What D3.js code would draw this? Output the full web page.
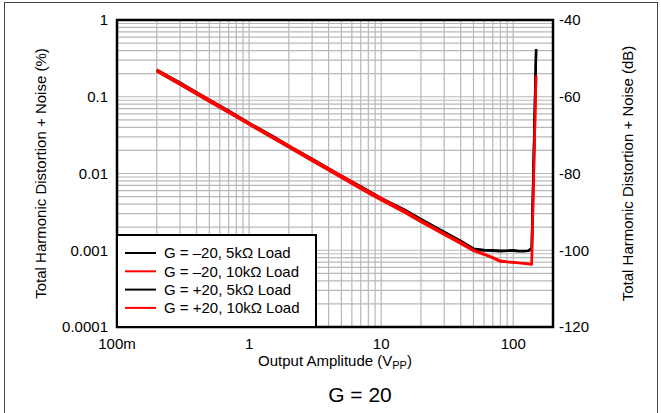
<!DOCTYPE html>
<html>
<head>
<meta charset="utf-8">
<script src="https://cdn.jsdelivr.net/npm/d3@7"></script>
<style>
  body { margin: 0; background: #fff; }
  svg { display: block; font-family: "Liberation Sans", Arial, sans-serif; }
  .grid line { stroke: #b8b8b8; stroke-width: 1.2; }
  .tick-label { font-size: 15px; fill: #000; }
  .axis-title { font-size: 15px; fill: #000; }
  .series { fill: none; stroke-width: 2.4; stroke-linejoin: round; }
</style>
</head>
<body>
<svg width="661" height="413"></svg>
<script>
// output amplitude (Vpp)
var amplitude = [0.2, 0.3, 0.5, 0.7, 1, 1.5, 2, 3, 5, 7, 10, 15, 20, 30, 40, 50, 60, 70, 80, 90, 100, 110, 120, 130, 138, 149];

// THD+N (%)
var gNeg5k  = [0.224, 0.153, 0.091, 0.066, 0.0455, 0.0310, 0.0230, 0.0156, 0.0093, 0.0068, 0.0048, 0.0034, 0.00255, 0.00174, 0.00133, 0.00105, 0.00101, 0.00100, 0.00099, 0.00099, 0.00100, 0.00098, 0.00098, 0.00099, 0.00106, 0.42];
var gNeg10k = [0.226, 0.151, 0.092, 0.065, 0.0456, 0.0305, 0.0231, 0.0154, 0.0094, 0.0067, 0.0048, 0.0033, 0.00246, 0.00166, 0.00128, 0.00101, 0.00090, 0.00081, 0.00073, 0.00071, 0.00070, 0.00069, 0.00068, 0.00067, 0.00066, 0.188];
var gPos5k  = [0.218, 0.147, 0.089, 0.063, 0.0442, 0.0297, 0.0224, 0.0150, 0.0091, 0.0065, 0.0046, 0.0032, 0.00245, 0.00168, 0.00129, 0.00103, 0.00099, 0.00098, 0.00097, 0.00098, 0.00098, 0.00097, 0.00097, 0.00098, 0.00104, 0.41];
var gPos10k = [0.214, 0.144, 0.086, 0.062, 0.0434, 0.0290, 0.0219, 0.0146, 0.0088, 0.0063, 0.0045, 0.0031, 0.00234, 0.00159, 0.00122, 0.00098, 0.00088, 0.00079, 0.00071, 0.00070, 0.00069, 0.00068, 0.00067, 0.00066, 0.00065, 0.19];

var seriesNames = ["G = \u201320, 5k\u03A9 Load", "G = \u201320, 10k\u03A9 Load", "G = +20, 5k\u03A9 Load", "G = +20, 10k\u03A9 Load"];
var seriesColors = ["#000000", "#ff0000", "#000000", "#ff0000"];

var xTicks = [0.1, 1, 10, 100];
var xTickLabels = ["100m", "1", "10", "100"];
var yTicks = [1, 0.1, 0.01, 0.001, 0.0001];
var yTickLabels = ["1", "0.1", "0.01", "0.001", "0.0001"];
var dbTicks = [-40, -60, -80, -100, -120];

var svg = d3.select("svg"),
    margin = { top: 20, right: 108, bottom: 86, left: 117 },
    width = 661 - margin.left - margin.right,
    height = 413 - margin.top - margin.bottom,
    g = svg.append("g").attr("transform", "translate(" + margin.left + "," + margin.top + ")");

var x = d3.scaleLog().domain([0.1, 200]).range([0, width]),
    y = d3.scaleLog().domain([0.0001, 1]).range([height, 0]),
    yDb = d3.scaleLinear().domain([-120, -40]).range([height, 0]);

// outer frame
svg.append("rect")
    .attr("x", 4.5).attr("y", 2.5)
    .attr("width", 653).attr("height", 430)
    .attr("fill", "none")
    .attr("stroke", "#444")
    .attr("stroke-width", 1);

// grid
var xGrid = [], yGrid = [];
[0.1, 1, 10, 100].forEach(function(d) {
    for (var k = 1; k < 10; k++) if (d * k <= 200) xGrid.push(d * k);
});
[0.0001, 0.001, 0.01, 0.1].forEach(function(d) {
    for (var k = 1; k < 10; k++) yGrid.push(d * k);
});

var grid = g.append("g").attr("class", "grid");
grid.selectAll(".gx").data(xGrid).enter().append("line")
    .attr("x1", function(d) { return x(d); })
    .attr("x2", function(d) { return x(d); })
    .attr("y1", 0).attr("y2", height);
grid.selectAll(".gy").data(yGrid).enter().append("line")
    .attr("x1", 0).attr("x2", width)
    .attr("y1", function(d) { return y(d); })
    .attr("y2", function(d) { return y(d); });

// series: black first, red on top
var allSeries = [gNeg5k, gNeg10k, gPos5k, gPos10k].map(function(vals, i) {
    return {
        name: seriesNames[i],
        color: seriesColors[i],
        values: amplitude.map(function(a, j) { return { v: a, thd: vals[j] }; })
    };
});

var line = d3.line()
    .x(function(d) { return x(d.v); })
    .y(function(d) { return y(d.thd); });

var drawOrder = [0, 2, 1, 3];
g.selectAll(".series")
    .data(drawOrder.map(function(i) { return allSeries[i]; }))
    .enter().append("path")
    .attr("class", "series")
    .attr("stroke", function(d) { return d.color; })
    .attr("d", function(d) { return line(d.values); });

// plot border
g.append("rect")
    .attr("width", width).attr("height", height)
    .attr("fill", "none")
    .attr("stroke", "#000")
    .attr("stroke-width", 2.5);

// tick labels
g.selectAll(".xl").data(xTicks).enter().append("text")
    .attr("class", "tick-label")
    .attr("x", function(d) { return x(d); })
    .attr("y", height + 22)
    .attr("text-anchor", "middle")
    .text(function(d, i) { return xTickLabels[i]; });

g.selectAll(".yl").data(yTicks).enter().append("text")
    .attr("class", "tick-label")
    .attr("x", -9)
    .attr("y", function(d) { return y(d); })
    .attr("dy", "0.35em")
    .attr("text-anchor", "end")
    .text(function(d, i) { return yTickLabels[i]; });

g.selectAll(".dbl").data(dbTicks).enter().append("text")
    .attr("class", "tick-label")
    .attr("x", width + 6)
    .attr("y", function(d) { return yDb(d); })
    .attr("dy", "0.35em")
    .text(function(d) { return d; });

// axis titles
var xt = svg.append("text")
    .attr("class", "axis-title")
    .attr("x", margin.left + width / 2)
    .attr("y", 366)
    .attr("text-anchor", "middle");
xt.append("tspan").text("Output Amplitude (V");
xt.append("tspan").attr("font-size", "11px").attr("dy", 3).text("PP");
xt.append("tspan").attr("dy", -3).text(")");

svg.append("text")
    .attr("class", "axis-title")
    .attr("transform", "translate(46," + (margin.top + height / 2) + ") rotate(-90)")
    .attr("text-anchor", "middle")
    .text("Total Harmonic Distortion + Noise (%)");

svg.append("text")
    .attr("class", "axis-title")
    .attr("transform", "translate(633," + (margin.top + height / 2) + ") rotate(-90)")
    .attr("text-anchor", "middle")
    .text("Total Harmonic Distortion + Noise (dB)");

svg.append("text")
    .attr("x", 360).attr("y", 402)
    .attr("text-anchor", "middle")
    .attr("font-size", "21px")
    .text("G = 20");

// legend
var legend = svg.append("g").attr("transform", "translate(117,235)");
legend.append("rect")
    .attr("width", 199).attr("height", 92)
    .attr("fill", "#fff")
    .attr("stroke", "#000")
    .attr("stroke-width", 2);
var item = legend.selectAll(".item").data(allSeries).enter().append("g")
    .attr("transform", function(d, i) { return "translate(0," + (18 + i * 18.3) + ")"; });
item.append("line")
    .attr("x1", 8).attr("x2", 39)
    .attr("stroke", function(d) { return d.color; })
    .attr("stroke-width", 2);
item.append("text")
    .attr("x", 47).attr("dy", "0.35em")
    .attr("font-size", "15px")
    .text(function(d) { return d.name; });
</script>
</body>
</html>
